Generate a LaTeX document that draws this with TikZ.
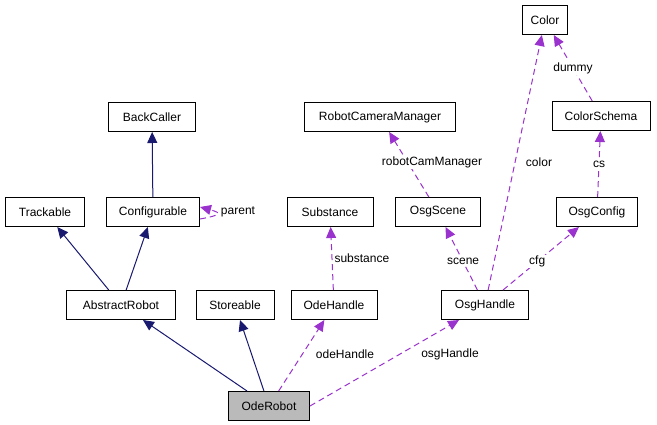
\documentclass[tikz,border=0pt]{standalone}
\usepackage{fontspec}
\setmainfont{Liberation Sans}
\usetikzlibrary{arrows.meta}
\begin{document}
\begin{tikzpicture}[x=1pt,y=-1pt,line width=1pt,
box/.style={
% The shape:
rectangle,
draw=black,
minimum height=29pt,
inner xsep=3pt,
font=\fontsize{12}{14}\selectfont
},
inherit/.style={draw={rgb,255:red,25;green,25;blue,112},-{Triangle[length=11pt,width=10pt]}},
uses/.style={draw={rgb,255:red,154;green,50;blue,205},dash pattern=on 6pt off 4pt,-{Triangle[length=11pt,width=10pt]}},
lbl/.style={font=\fontsize{12}{14}\selectfont,fill=white,inner sep=1pt}
]
\useasboundingbox (0,0) rectangle (657,424);
% First row:
\node (color) [box,minimum width=45pt] at (545,20) {Color};
\node (backcaller) [box,minimum width=87pt] at (152,117) {BackCaller};
\node (camman) [box,minimum width=151pt] at (380,117) {RobotCameraManager};
\node (schema) [box,minimum width=98pt] at (601,116) {ColorSchema};
\node (trackable) [box,minimum width=79pt] at (45,212) {Trackable};
\node (configurable) [box,minimum width=93pt] at (153,212) {Configurable};
\node (substance) [box,minimum width=86pt] at (330,212) {Substance};
\node (osgscene) [box,minimum width=85pt] at (438,212) {OsgScene};
\node (osgconfig) [box,minimum width=81pt] at (597,212) {OsgConfig};
\node (abstract) [box,minimum width=109pt] at (121,305) {AbstractRobot};
\node (storeable) [box,minimum width=78pt] at (235,305) {Storeable};
\node (odehandle) [box,minimum width=86pt] at (334,305) {OdeHandle};
\node (osghandle) [box,minimum width=87pt] at (485,305) {OsgHandle};
\node (oderobot) [box,minimum width=81pt,fill=black!27] at (269,406) {OdeRobot};
% inheritance
\draw[inherit] (configurable) -- (backcaller);
\draw[inherit] (abstract) -- (trackable);
\draw[inherit] (abstract) -- (configurable);
\draw[inherit] (oderobot) -- (abstract);
\draw[inherit] (oderobot) -- (storeable);
% usage
\draw[uses] ([yshift=-7pt]configurable.east) .. controls ++(22,-4) and ++(22,6) .. ([yshift=5pt]configurable.east);
\node[lbl] at (238,212) {parent};
\draw[uses] (oderobot) -- (odehandle);
\node[lbl] at (345,354) {odeHandle};
\draw[uses] (oderobot.east) -- (osghandle);
\node[lbl] at (450,354) {osgHandle};
\draw[uses] (odehandle) -- node[lbl,right=1pt] {substance} (substance);
\draw[uses] (osghandle) -- node[lbl,pos=0.45] {scene} (osgscene);
\draw[uses] (osgscene) -- (camman);
\node[lbl] at (432,162) {robotCamManager};
\draw[uses] (osghandle) -- (color);
\node[lbl] at (539,162) {color};
\draw[uses] (schema) -- node[lbl] {dummy} (color);
\draw[uses] (osgconfig) -- node[lbl] {cs} (schema);
\draw[uses] (osghandle) -- node[lbl,pos=0.45] {cfg} (osgconfig);
\end{tikzpicture}
\end{document}
